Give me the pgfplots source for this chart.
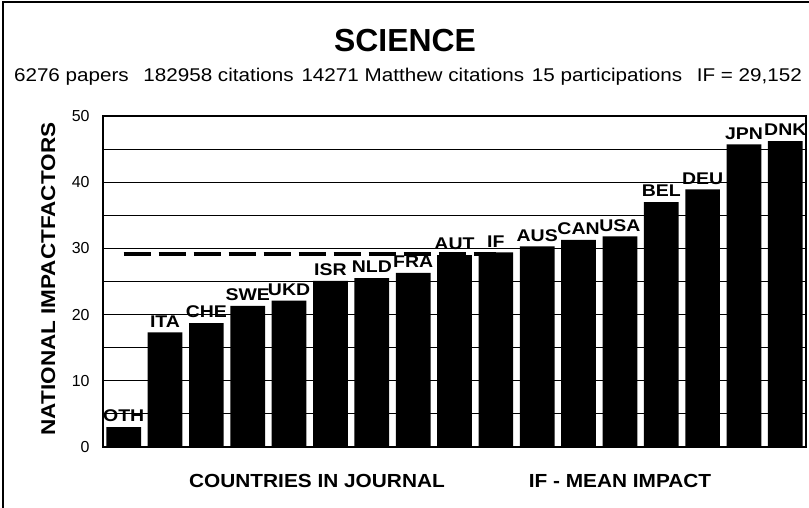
\documentclass[border=0pt]{standalone}
\usepackage{fontspec}
\setmainfont{Liberation Sans}
\usepackage{graphicx}
\usepackage{pgfplots}
\pgfplotsset{compat=1.18}
% the original lettering is a little wider than Liberation Sans
\newcommand{\wide}[2][1.12]{\scalebox{#1}[1]{#2}}
\begin{document}
\begin{tikzpicture}[x=1bp,y=1bp]
\useasboundingbox (0,0) rectangle (809,508);
% frame of the figure
\draw[line width=1.2bp] (3,0) -- (3,506) -- (809,506);
\begin{axis}[
    at={(103bp,61bp)}, anchor=south west,
    scale only axis,
    width=703bp, height=331bp,
    xmin=-0.5, xmax=16.5,
    ymin=0, ymax=50,
    xtick=\empty,
    ytick={0,10,...,50},
    minor ytick={5,15,...,45},
    ymajorgrids, yminorgrids,
    major grid style={black, line width=0.8bp},
    minor grid style={black, line width=0.8bp},
    major tick length=0pt, minor tick length=0pt,
    axis line style={line width=1.2bp},
    ytick style={draw=none},
    yticklabel style={font=\fontsize{16}{16}\selectfont, /pgf/number format/assume math mode=true, xshift=-10bp},
    clip=false,
]
% mean impact factor of the journal
\addplot[black, line width=3.5bp, dash pattern=on 27bp off 8bp, forget plot]
    coordinates {(0,29.152) (9,29.152)};
% national impact factors
\addplot[ybar, bar width=34.7bp, fill=black, draw=none,
    point meta=explicit symbolic, nodes near coords,
    nodes near coords={\wide[1.15]{\pgfplotspointmeta}},
    every node near coord/.style={font=\bfseries\fontsize{17}{17}\selectfont, inner sep=0pt, anchor=south, yshift=5bp}]
    coordinates {
    (0,3.0) [OTH]
    (1,17.3) [ITA]
    (2,18.7) [CHE]
    (3,21.3) [SWE]
    (4,22.1) [UKD]
    (5,25.1) [ISR]
    (6,25.5) [NLD]
    (7,26.3) [FRA]
    (8,29.0) [AUT]
    (9,29.4) [IF]
    (10,30.3) [AUS]
    (11,31.3) [CAN]
    (12,31.8) [USA]
    (13,37.0) [BEL]
    (14,38.9) [DEU]
    (15,45.7) [JPN]
    (16,46.2) [DNK]
};
\end{axis}
\node[font=\bfseries\fontsize{32}{32}\selectfont, anchor=base] at (405,456) {SCIENCE};
\node[font=\fontsize{18.5}{18.5}\selectfont, anchor=base] at (408,426)
    {\wide{6276 papers\hspace{13bp}182958 citations\hspace{7bp}14271 Matthew citations\hspace{7bp}15 participations\hspace{13bp}IF = 29,152}};
\node[font=\bfseries\fontsize{20}{20}\selectfont, rotate=90, anchor=base] at (55,229) {\wide[1.13]{NATIONAL IMPACTFACTORS}};
\node[font=\bfseries\fontsize{19}{19}\selectfont, anchor=base] at (317,20) {\wide[1.1]{COUNTRIES IN JOURNAL}};
\node[font=\bfseries\fontsize{19}{19}\selectfont, anchor=base] at (620,20) {\wide[1.1]{IF - MEAN IMPACT}};
\end{tikzpicture}
\end{document}
